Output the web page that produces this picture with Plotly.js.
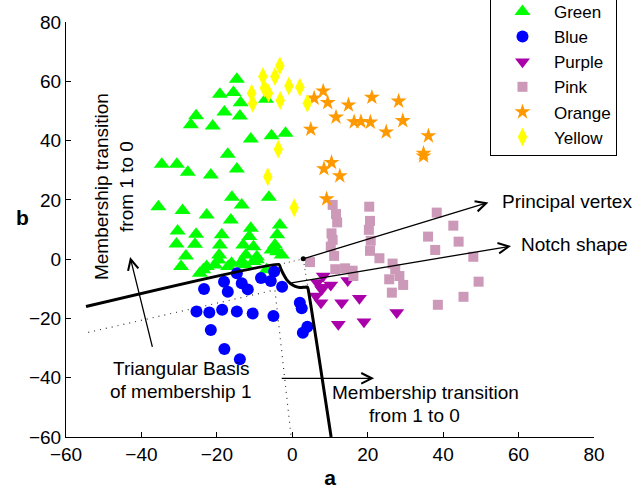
<!DOCTYPE html>
<html>
<head>
<meta charset="utf-8">
<script src="https://cdn.plot.ly/plotly-3.0.1.min.js"></script>
<style>html,body{margin:0;padding:0;background:#fff;}#chart{width:634px;height:495px;}</style>
</head>
<body>
<div id="chart"></div>
<script>
// ---- data (a, b coordinates) ----
var seriesNames = ['Green', 'Blue', 'Purple', 'Pink', 'Orange', 'Yellow'];

var greenA = [-14.7,-19.2,-15.6,-13.7,-7.0,-18.0,-13.9,-25.5,-26.9,-21.1,-11.0,-5.5,-1.8,-17.1,-34.6,-30.6,-27.7,-21.6,-14.7,-35.5,-29.1,-22.7,-16.0,-13.4,-6.2,
  -16.3,-30.4,-25.5,-30.7,-25.8,-28.2,-29.5,-18.7,-19.2,-19.4,-19.6,-11.0,-11.4,-13.0,-10.3,-12.3,-9.4,-3.3,-4.0,-4.6,-4.0,-2.8,-5.5,-22.7,-24.5,-20.5,-16.1,-13.4,-10.3,-17.0,-6.8,-23.6,-12.6,-9.4];
var greenB = [60.7,55.6,56.2,52.8,53.9,49.6,48.3,48.4,45.3,44.9,40.5,41.6,42.5,35.4,32.0,32.0,29.3,28.4,30.4,17.7,16.4,14.9,20.9,18.3,20.9,
  13.2,9.5,8.4,5.1,5.0,1.1,-2.5,8.2,4.8,1.4,-0.3,10.4,7.6,4.8,4.2,1.4,0.8,11.5,8.2,4.8,2.5,1.4,3.1,-2.5,-4.8,-2.0,-1.4,-0.8,-0.8,-2.5,-3.6,-3.6,-1.9,-0.2];

var blueA = [-23.4,-18.1,-17.1,-13.4,-11.8,-8.3,-5.7,-2.7,-14.7,-4.8,-25.4,-22.0,-18.6,-14.7,-10.5,-5.0,-21.6,-18.0,-13.9,2.0,2.5,4.0,2.8];
var blueB = [-10.1,-7.6,-11.0,-8.1,-10.2,-6.4,-7.4,-9.3,-4.8,-4.2,-17.7,-18.0,-17.1,-17.7,-18.3,-19.2,-23.9,-30.3,-33.8,-14.7,-16.6,-22.8,-24.8];

var purpleA = [8.2,6.6,8.1,10.2,14.7,7.8,6.3,7.6,13.1,17.8,27.7,12.2,19.0];
var purpleB = [-5.7,-7.9,-9.5,-8.7,-7.2,-10.2,-12.4,-14.7,-14.7,-13.2,-18.0,-22.0,-21.1];

var pinkA = [10.7,11.6,11.9,10.4,10.7,10.2,11.1,4.7,11.4,14.0,16.0,16.2,20.4,20.6,20.3,20.8,20.6,23.1,26.6,27.3,28.4,29.4,25.7,26.4,38.3,42.7,36.0,44.1,37.9,48.0,49.4,45.4,38.6];
var pinkB = [18.3,15.2,12.4,8.7,6.5,4.2,1.1,-1.0,-3.4,-3.1,-3.9,-5.7,17.7,12.9,9.9,6.2,2.8,0.3,-1.5,-3.4,-5.7,-8.7,-6.8,-11.3,15.7,11.3,7.6,5.9,3.1,0.8,-7.6,-12.7,-15.4];

var orangeA = [8.2,5.8,9.4,14.9,21.1,28.2,11.6,16.4,18.2,20.7,29.3,24.9,4.9,36.1,34.8,34.8,10.4,8.4,12.6,9.1];
var orangeB = [56.7,54.3,52.8,52.0,54.6,53.3,47.9,46.3,46.4,46.2,46.7,42.9,43.8,41.6,35.7,34.8,32.6,30.5,28.1,20.3];

var yellowA = [-3.3,-7.8,-4.6,-0.9,2.0,-10.8,-7.4,-6.3,-10.5,-3.2,-3.7,-6.5,0.5,4.0];
var yellowB = [65.2,61.6,61.6,58.4,58.0,56.0,57.7,56.0,52.6,53.5,37.1,27.8,17.3,52.6];

// membership boundary (thick), its dotted extensions and the dotted triangular basis
var boundaryA = [-54.7,-3.5,-3.0,-2.3,-1.5,-0.4,0.8,2.0,3.2,4.0,4.2,10.3];
var boundaryB = [-16.0,-1.8,-3.4,-5.2,-6.9,-8.3,-9.2,-9.6,-9.5,-9.4,-10.1,-60];
var extensionA = [-3.5,2.9,4.2];
var extensionB = [-1.8,0.1,-10.1];
var basisA = [-54.1,-4.6,-0.3];
var basisB = [-24.7,-10.4,-60];
var vertexA = [2.9];
var vertexB = [0.1];

// axis ticks
var tickVals = [-60,-40,-20,0,20,40,60,80];

// ---- styling ----
var FONT = 'Liberation Sans, Arial, Helvetica, sans-serif';
var FS = 19;

function scat(name, a, b, symbol, color, size) {
  return {type:'scatter', mode:'markers', name:name, x:a, y:b,
    marker:{symbol:symbol, color:color, size:size, line:{width:0}}};
}

var traces = [
  {type:'scatter', mode:'lines', x:basisA, y:basisB, showlegend:false, hoverinfo:'skip',
    line:{color:'#333', width:1.2, dash:'1px,5px'}},
  {type:'scatter', mode:'lines', x:extensionA, y:extensionB, showlegend:false, hoverinfo:'skip',
    line:{color:'#333', width:1, dash:'1px,4px'}},
  scat(seriesNames[0], greenA, greenB, 'triangle-up', '#00FF00', 14),
  scat(seriesNames[1], blueA, blueB, 'circle', '#0000FF', 12),
  scat(seriesNames[2], purpleA, purpleB, 'triangle-down', '#AA00AA', 13),
  scat(seriesNames[3], pinkA, pinkB, 'square', '#CC99B8', 10),
  scat(seriesNames[4], orangeA, orangeB, 'star', '#FF9900', 12),
  scat(seriesNames[5], yellowA, yellowB, 'diamond-tall', '#FFFF00', 13.5),
  {type:'scatter', mode:'lines', x:boundaryA, y:boundaryB, showlegend:false, hoverinfo:'skip',
    line:{color:'#000', width:3, shape:'spline', smoothing:0.4}},
  {type:'scatter', mode:'markers', x:vertexA, y:vertexB, showlegend:false, hoverinfo:'skip',
    marker:{color:'#000', size:5}}
];

function arrow(x, y, ax, ay) {
  return {x:x, y:y, ax:ax, ay:ay, xref:'x', yref:'y', axref:'x', ayref:'y', text:'',
    showarrow:true, arrowhead:5, arrowsize:1.6, arrowwidth:1.3, arrowcolor:'#000', standoff:0, startstandoff:0};
}
function txt(x, y, text, xanchor, angle) {
  return {x:x, y:y, xref:'x', yref:'y', text:text, showarrow:false, xanchor:xanchor||'center', yanchor:'middle',
    textangle:angle||0, font:{family:FONT, size:FS, color:'#000'}};
}

var annotations = [
  arrow(52.0, 19.1, 2.9, 0.1),
  arrow(58.0, 4.4, -0.6, -8.1),
  arrow(-43.0, 0.7, -37.0, -30.1),
  arrow(21.7, -40.2, -3.2, -40.2),
  txt(55.1, 19.6, 'Principal vertex', 'left'),
  txt(60.1, 4.8, 'Notch shape', 'left'),
  txt(-50.4, 24.4, 'Membership transition', 'center', -90),
  txt(-43.8, 24.4, 'from 1 to 0', 'center', -90),
  txt(-29.5, -37.0, 'Triangular Basis', 'center'),
  txt(-29.5, -44.5, 'of membership 1', 'center'),
  txt(35.3, -45.1, 'Membership transition', 'center'),
  txt(32.3, -52.6, 'from 1 to 0', 'center'),
  {x:-0.083, y:0.53, xref:'paper', yref:'paper', text:'<b>b</b>', showarrow:false,
    xanchor:'center', yanchor:'middle', font:{family:FONT, size:21, color:'#000'}}
];

var layout = {
  width:634, height:495,
  margin:{l:66, r:40, t:22, b:58, autoexpand:false},
  paper_bgcolor:'#fff', plot_bgcolor:'#fff',
  font:{family:FONT, size:FS, color:'#000'},
  showlegend:true,
  legend:{x:0.803, y:1.07, xanchor:'left', yanchor:'top', bgcolor:'#fff',
    bordercolor:'#000', borderwidth:1, font:{family:FONT, size:17, color:'#000'},
    itemwidth:53, tracegroupgap:0},
  xaxis:{range:[-60,80], tickvals:tickVals, ticks:'inside', ticklen:5, tickcolor:'#000',
    showline:true, linecolor:'#000', linewidth:1, showgrid:false, zeroline:false, mirror:false,
    tickfont:{family:FONT, size:FS}, title:{text:'<b>a</b>', font:{family:FONT, size:21}, standoff:6}},
  yaxis:{range:[-60,80], tickvals:tickVals, ticks:'inside', ticklen:5, tickcolor:'#000',
    showline:true, linecolor:'#000', linewidth:1, showgrid:false, zeroline:false, mirror:false,
    tickfont:{family:FONT, size:FS}},
  annotations:annotations
};

Plotly.newPlot('chart', traces, layout, {staticPlot:true, displayModeBar:false});
</script>
</body>
</html>
